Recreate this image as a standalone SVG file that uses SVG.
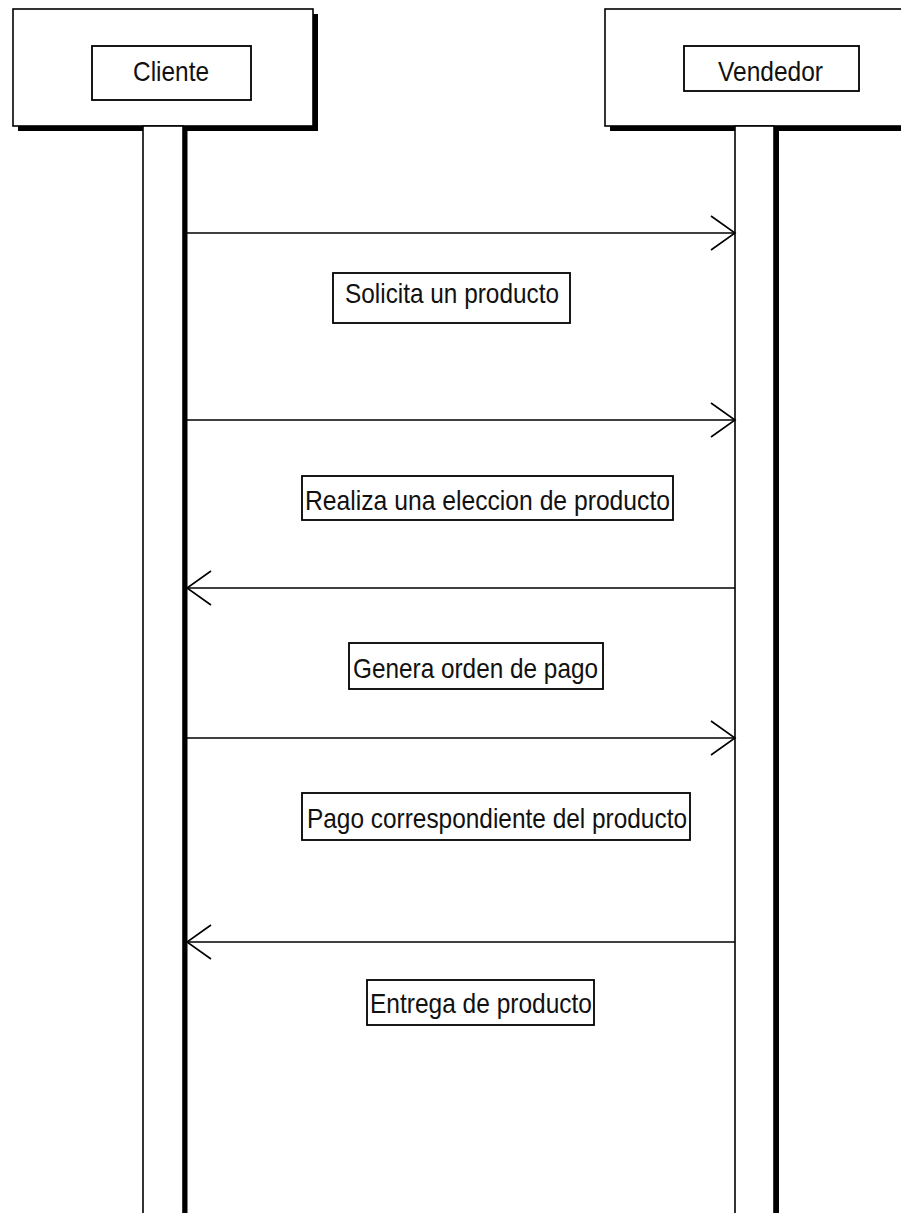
<svg xmlns="http://www.w3.org/2000/svg" width="901" height="1213" viewBox="0 0 901 1213">
  <style>
    .box { fill: #ffffff; stroke: #000000; stroke-width: 1.6; }
    .shadow { fill: #000000; }
    .label { fill: #ffffff; stroke: #000000; stroke-width: 1.8; }
    .txt { font-family: "Liberation Sans", Arial, sans-serif; font-size: 28px; fill: #111111; }
    .msg { stroke: #000000; stroke-width: 1.6; fill: none; }
  </style>
  <defs>
    <marker id="open-arrow" markerUnits="userSpaceOnUse" markerWidth="30" markerHeight="40" viewBox="-26 -20 30 40" refX="0" refY="0" orient="auto">
      <path d="M -24 -17 L 0 0 L -24 17" fill="none" stroke="#000000" stroke-width="1.6"/>
    </marker>
  </defs>
  <rect x="0" y="0" width="901" height="1213" fill="#ffffff"/>

  <!-- Actor: Cliente -->
  <g id="actor-cliente">
    <rect class="shadow" x="18" y="14" width="300" height="117"/>
    <rect class="box" x="13" y="9" width="300" height="117"/>
    <rect class="label" x="92" y="46" width="159" height="54"/>
    <text class="txt" x="133" y="81" textLength="76" lengthAdjust="spacingAndGlyphs">Cliente</text>
  </g>

  <!-- Actor: Vendedor -->
  <g id="actor-vendedor">
    <rect class="shadow" x="610" y="14" width="400" height="117"/>
    <rect class="box" x="605" y="9" width="400" height="117"/>
    <rect class="label" x="684" y="46" width="175" height="45"/>
    <text class="txt" x="718" y="81" textLength="105" lengthAdjust="spacingAndGlyphs">Vendedor</text>
  </g>

  <!-- Lifelines -->
  <g id="lifeline-cliente">
    <rect class="shadow" x="182" y="126" width="5.5" height="1100"/>
    <rect class="box" x="143" y="126" width="40" height="1100"/>
  </g>
  <g id="lifeline-vendedor">
    <rect class="shadow" x="773" y="126" width="6" height="1100"/>
    <rect class="box" x="735" y="126" width="39" height="1100"/>
  </g>

  <!-- Messages -->
  <g id="connectors">
    <line class="msg" x1="187" y1="233" x2="735" y2="233" marker-end="url(#open-arrow)"/>
    <line class="msg" x1="187" y1="420" x2="735" y2="420" marker-end="url(#open-arrow)"/>
    <line class="msg" x1="735" y1="588" x2="187" y2="588" marker-end="url(#open-arrow)"/>
    <line class="msg" x1="187" y1="738" x2="735" y2="738" marker-end="url(#open-arrow)"/>
    <line class="msg" x1="735" y1="942" x2="187" y2="942" marker-end="url(#open-arrow)"/>
  </g>

  <!-- Message labels -->
  <g id="note-solicita">
    <rect class="label" x="333" y="273" width="237" height="50"/>
    <text class="txt" x="345" y="303" textLength="214" lengthAdjust="spacingAndGlyphs">Solicita un producto</text>
  </g>
  <g id="note-eleccion">
    <rect class="label" x="302" y="476" width="371" height="44"/>
    <text class="txt" x="305" y="510" textLength="365" lengthAdjust="spacingAndGlyphs">Realiza una eleccion de producto</text>
  </g>
  <g id="note-orden">
    <rect class="label" x="349" y="643" width="254" height="46"/>
    <text class="txt" x="353" y="678" textLength="245" lengthAdjust="spacingAndGlyphs">Genera orden de pago</text>
  </g>
  <g id="note-pago">
    <rect class="label" x="302" y="793" width="388" height="47"/>
    <text class="txt" x="307" y="828" textLength="380" lengthAdjust="spacingAndGlyphs">Pago correspondiente del producto</text>
  </g>
  <g id="note-entrega">
    <rect class="label" x="367" y="980" width="227" height="45"/>
    <text class="txt" x="370" y="1013" textLength="222" lengthAdjust="spacingAndGlyphs">Entrega de producto</text>
  </g>
</svg>
